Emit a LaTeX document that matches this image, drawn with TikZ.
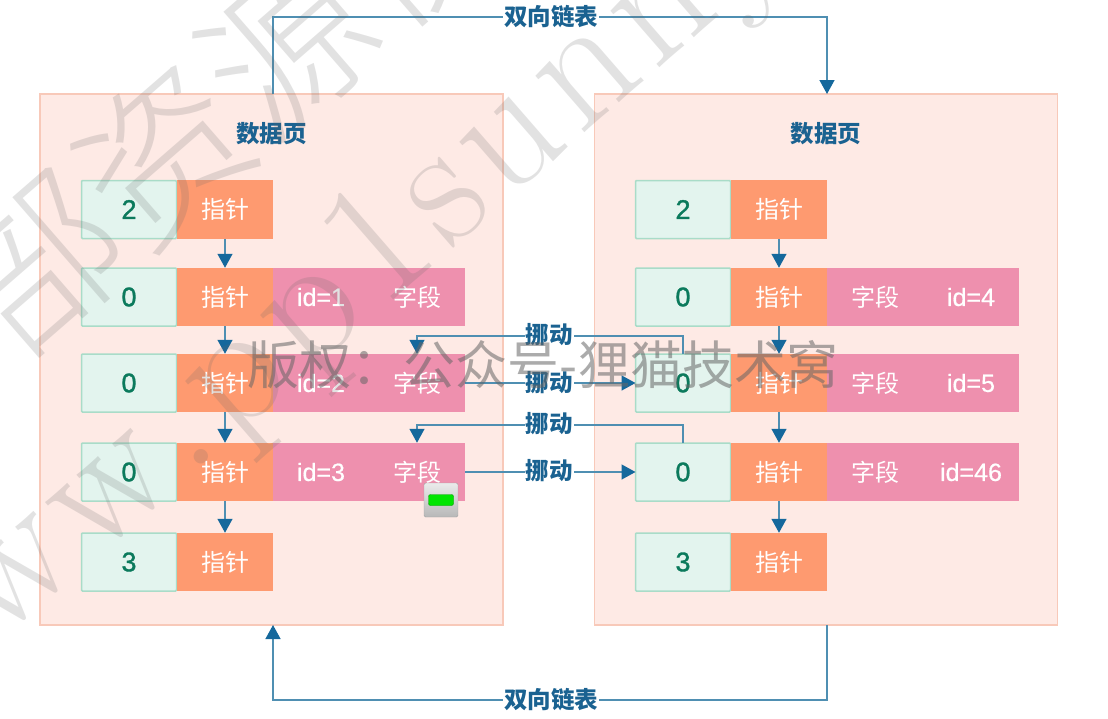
\documentclass[tikz,border=0pt]{standalone}
\usepackage{fontspec}
\setmainfont{Noto Sans CJK SC}
\newfontfamily\markfont{Noto Sans CJK SC Light}
\newfontfamily\latinmark[LetterSpace=6]{Latin Modern Roman}
\newfontfamily\idfont[FakeBold=0.5]{Liberation Sans}
\newfontfamily\numfont[FakeBold=1.2]{Liberation Sans}
\usetikzlibrary{positioning,arrows.meta}

\definecolor{pagefill}{HTML}{FEEAE5}
\definecolor{pageline}{HTML}{F8C9B9}
\definecolor{numfill}{HTML}{E3F4EE}
\definecolor{numline}{HTML}{A9DCC8}
\definecolor{numtext}{HTML}{0B7A5C}
\definecolor{ptrfill}{HTML}{FE9A70}
\definecolor{fieldfill}{HTML}{EE90AE}
\definecolor{linkline}{HTML}{4F8FB2}
\definecolor{linktip}{HTML}{15689C}
\definecolor{linktext}{HTML}{1A6291}

\tikzset{
	pagebox/.style={draw=pageline,fill=pagefill,line width=1.5pt,minimum width=463pt,minimum height=531pt,outer sep=0pt},
	numbox/.style={draw=numline,fill=numfill,line width=1.5pt,rounded corners=1pt,minimum width=95pt,minimum height=58pt,outer sep=0pt,text=numtext,font=\numfont\fontsize{27}{27}\selectfont},
	ptrbox/.style={fill=ptrfill,minimum width=96pt,minimum height=58.5pt,outer sep=0pt,inner sep=0pt,text=white,font=\fontsize{24}{24}\selectfont},
	fieldbox/.style={fill=fieldfill,minimum width=96pt,minimum height=58.5pt,outer sep=0pt,inner sep=0pt,text=white,font=\fontsize{24}{24}\selectfont},
	idbox/.style={fieldbox,font=\idfont\fontsize{25}{25}\selectfont},
	linkarrow/.style={draw=linkline,line width=1.4pt,-{Triangle[width=15pt,length=14pt,color=linktip]}},
	linklabel/.style={fill=white,inner sep=1pt,text=linktext,font=\fontsize{23.5}{23.5}\selectfont\bfseries},
	pagelabel/.style={text=linktext,font=\fontsize{23.5}{23.5}\selectfont\bfseries},
	markslant/.style={text=black!60,opacity=.19,rotate=41},
	markflat/.style={text=black!60,opacity=.55,font=\fontsize{52}{52}\selectfont},
}

\begin{document}
\begin{tikzpicture}[x=1pt,y=-1pt]
	\useasboundingbox (0,0) rectangle (1108,718);

	% pages
	\node[pagebox] (pageL) at (271.5,359.5) {};
	\node[pagebox] (pageR) at (826,359.5) {};
	\node[pagelabel] (titleL) at (271.5,134) {数据页};
	\node[pagelabel] (titleR) at (826,134) {数据页};

	% records
	\foreach \side/\xs in {L/129,R/683}
		\foreach \row/\ys/\num in {a/209.5/2,b/297/0,c/383/0,d/472/0,e/562/3} {
			\node[numbox] (num\side\row) at (\xs,\ys) {\num};
			\node[ptrbox,right=0.5pt of num\side\row] (ptr\side\row) {指针};
		}

	% fields
	\foreach \row/\idtext in {b/id=1,c/id=2,d/id=3} {
		\node[idbox,right=0pt of ptrL\row] (idL\row) {\idtext};
		\node[fieldbox,right=0pt of idL\row] (segL\row) {字段};
	}
	\foreach \row/\idtext in {b/id=4,c/id=5,d/id=46} {
		\node[fieldbox,right=0pt of ptrR\row] (segR\row) {字段};
		\node[idbox,right=0pt of segR\row] (idR\row) {\idtext};
	}

	% pointers
	\foreach \side in {L,R} {
		\draw[linkarrow] (ptr\side a) -- (ptr\side b);
		\draw[linkarrow] (ptr\side b) -- (ptr\side c);
		\draw[linkarrow] (ptr\side c) -- (ptr\side d);
		\draw[linkarrow] (ptr\side d) -- (ptr\side e);
	}

	% moves between pages
	\coordinate (turnA) at (417,336);
	\coordinate (turnB) at (417,425);
	\draw[linkarrow] (numRc.north) |- (turnA) -- (segLc.north);
	\draw[linkarrow] (numRd.north) |- (turnB) -- (segLd.north);
	\draw[linkarrow] (segLc.east) -- (numRc.west);
	\draw[linkarrow] (segLd.east) -- (numRd.west);
	\node[linklabel] (moveA) at (549,335) {挪动};
	\node[linklabel] (moveB) at (549,383) {挪动};
	\node[linklabel] (moveC) at (549,424) {挪动};
	\node[linklabel] (moveD) at (549,471) {挪动};

	% links between pages
	\coordinate (topL) at (273,17);
	\coordinate (topR) at (827,17);
	\coordinate (botL) at (273,700);
	\coordinate (botR) at (827,700);
	\draw[linkarrow] (ptrLa.east |- pageL.north) -- (topL) -- (topR) -- (ptrRa.east |- pageR.north);
	\draw[linkarrow] (ptrRe.east |- pageR.south) -- (botR) -- (botL) -- (ptrLe.east |- pageL.south);
	\node[linklabel] (linkT) at (551,17) {双向链表};
	\node[linklabel] (linkB) at (551,700) {双向链表};

	% indicator
	\node[draw=black!35,top color=white!92!black,bottom color=black!28,rounded corners=1.5pt,minimum width=34pt,minimum height=34pt,outer sep=0pt] (lamp) at (441,500) {};
	\node[draw=green!60!black,fill=green!90!black,rounded corners=2pt,minimum width=25pt,minimum height=11pt,inner sep=0pt] (lampbar) at (441,500) {};

	% watermarks
	\node[markslant,font=\markfont\fontsize{165}{165}\selectfont] (markA) at (225,100) {部资源仅};
	\node[markslant,font=\latinmark\fontsize{175}{175}\selectfont] (markB) at (320,310) {www.pp1sunny};
	\node[markflat] (markC) at (543,365) {版权：公众号-狸猫技术窝};
\end{tikzpicture}
\end{document}
